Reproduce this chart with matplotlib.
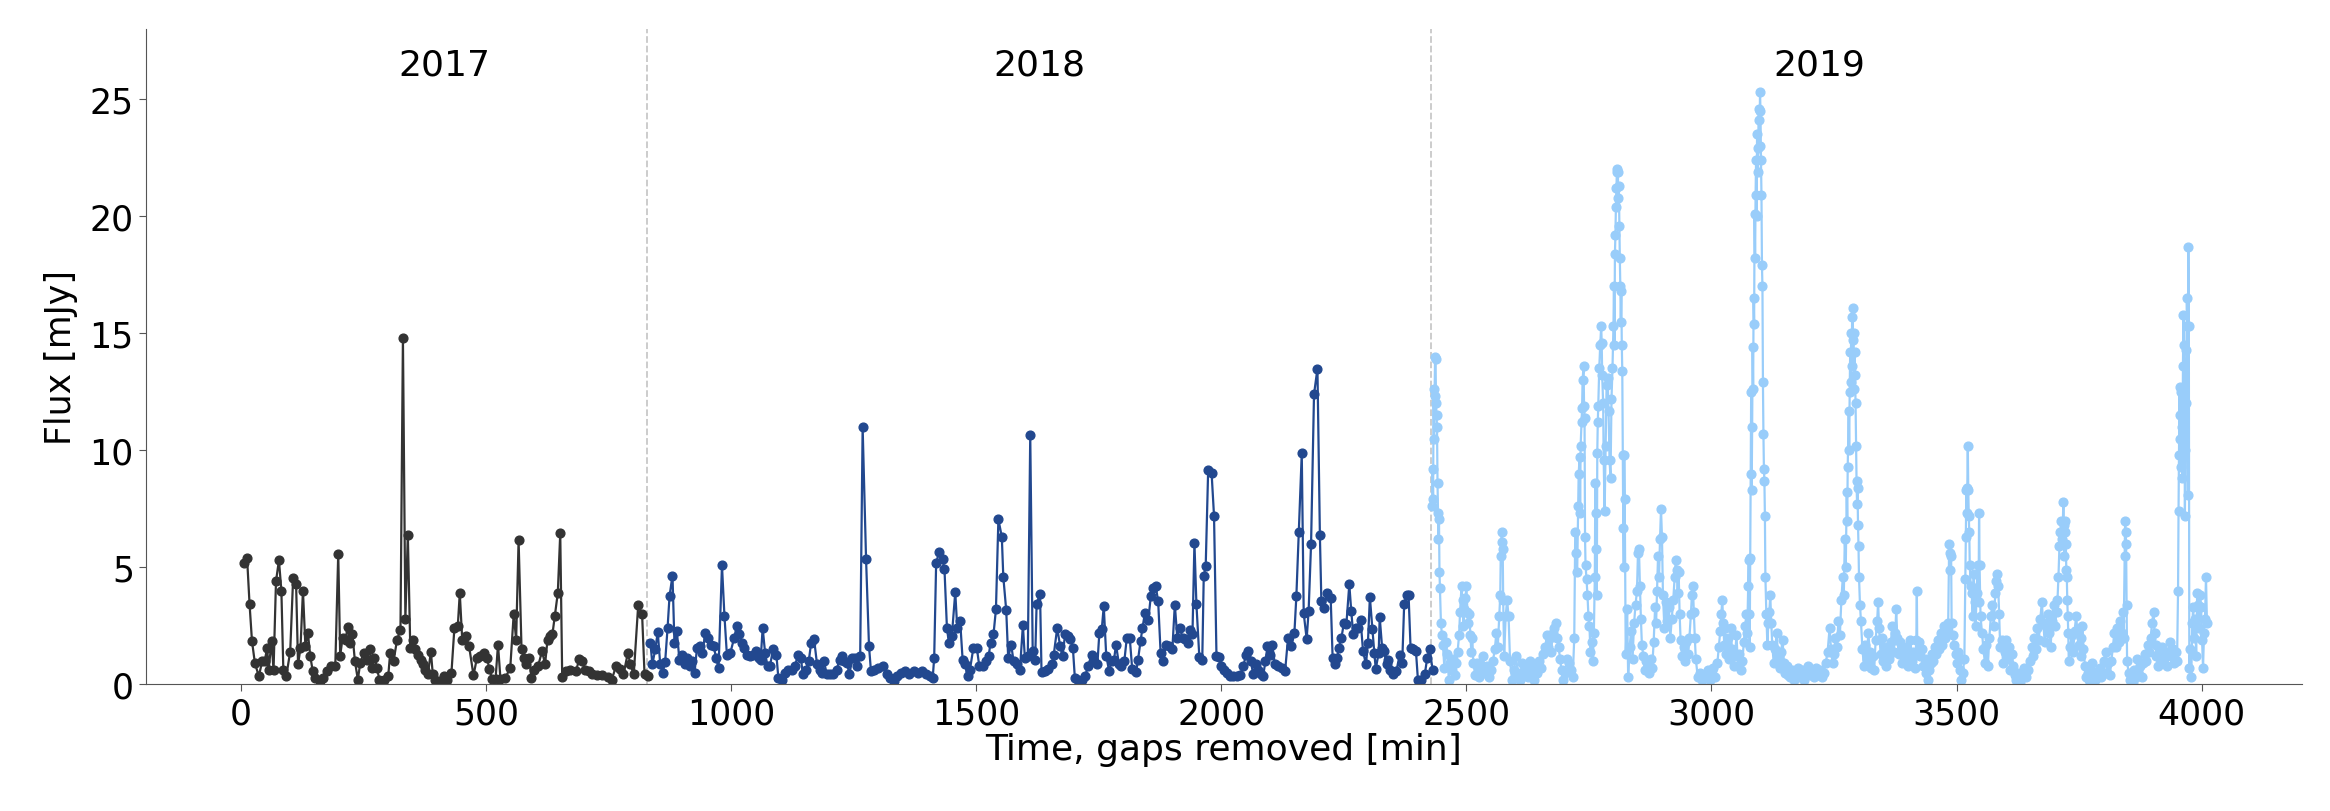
import matplotlib
matplotlib.use("Agg")
import matplotlib.pyplot as plt

# ---- data ----
t17 = [5, 12, 17, 22, 28, 36, 43, 48, 53, 56, 62, 66, 71, 77, 82, 86, 92, 100, 106, 112,
       116, 121, 126, 131, 136, 141, 146, 151, 160, 166, 175, 184, 192, 198, 202, 207, 213, 217, 223, 227,
       232, 238, 243, 250, 257, 262, 267, 272, 277, 282, 291, 300, 304, 311, 318, 325, 330, 335, 340, 345,
       351, 355, 361, 366, 370, 376, 381, 387, 391, 396, 406, 413, 420, 429, 435, 442, 446, 451, 459, 465,
       474, 481, 488, 495, 502, 506, 512, 519, 524, 529, 539, 549, 556, 561, 566, 572, 578, 582, 588, 592,
       597, 606, 614, 620, 625, 631, 635, 640, 646, 651, 655, 663, 671, 683, 690, 695, 702, 709, 716, 726,
       736, 748, 756, 765, 773, 780, 789, 794, 801, 810, 818, 823, 831]
f17 = [5.2, 5.4, 3.45, 1.85, 0.9, 0.35, 1.0, 1.0, 1.56, 0.63, 1.85, 0.6, 4.4, 5.3, 4.0, 0.6, 0.35, 1.4, 4.55, 4.3,
       0.85, 1.56, 4.0, 1.63, 2.2, 1.2, 0.56, 0.28, 0.14, 0.28, 0.56, 0.78, 0.78, 5.58, 1.23, 2.0, 1.9, 2.46, 1.77, 2.13,
       1.0, 0.2, 0.92, 1.35, 1.06, 1.52, 0.7, 1.13, 0.7, 0.2, 0.2, 0.35, 1.35, 1.0, 1.9, 2.34, 14.8, 2.8, 6.4, 1.56,
       1.9, 1.5, 1.27, 1.06, 0.85, 0.63, 0.42, 1.4, 0.42, 0.2, 0.14, 0.35, 0.2, 0.49, 2.4, 2.5, 3.9, 1.9, 2.06, 1.63,
       0.38, 1.13, 1.2, 1.35, 1.13, 0.66, 0.23, 0.23, 1.7, 0.23, 0.28, 0.7, 3.0, 1.9, 6.16, 1.52, 1.13, 0.85, 1.13, 0.28,
       0.63, 0.8, 1.42, 0.85, 1.9, 2.06, 2.13, 2.94, 3.9, 6.45, 0.3, 0.56, 0.63, 0.56, 1.09, 1.0, 0.63, 0.56, 0.42, 0.38,
       0.38, 0.3, 0.2, 0.78, 0.66, 0.42, 1.35, 0.85, 0.42, 3.37, 3.0, 0.42, 0.35]

t18 = [835, 839, 845, 850, 855, 860, 865, 870, 874, 880, 884, 889, 894, 899, 905, 909, 915, 920, 925, 930,
       937, 941, 947, 952, 958, 964, 969, 974, 981, 986, 991, 998, 1006, 1011, 1016, 1022, 1026, 1032, 1039, 1045,
       1051, 1056, 1060, 1064, 1069, 1074, 1079, 1085, 1092, 1096, 1103, 1109, 1115, 1123, 1130, 1136, 1142, 1146, 1152, 1158,
       1163, 1169, 1175, 1180, 1185, 1189, 1195, 1202, 1208, 1215, 1221, 1225, 1230, 1236, 1241, 1247, 1253, 1257, 1263, 1268,
       1275, 1281, 1285, 1292, 1300, 1310, 1317, 1324, 1331, 1338, 1346, 1355, 1363, 1372, 1380, 1389, 1397, 1406, 1411, 1414,
       1418, 1424, 1431, 1435, 1440, 1444, 1450, 1457, 1461, 1467, 1472, 1477, 1482, 1487, 1494, 1501, 1506, 1514, 1520, 1525,
       1529, 1535, 1540, 1545, 1552, 1555, 1561, 1565, 1571, 1576, 1582, 1589, 1595, 1599, 1605, 1610, 1615, 1620, 1623, 1630,
       1633, 1640, 1647, 1654, 1658, 1665, 1671, 1676, 1681, 1688, 1692, 1697, 1701, 1708, 1715, 1722, 1728, 1735, 1740, 1747,
       1751, 1756, 1760, 1765, 1771, 1776, 1781, 1785, 1791, 1796, 1802, 1807, 1813, 1818, 1826, 1830, 1835, 1839, 1844, 1851,
       1856, 1861, 1866, 1871, 1876, 1881, 1887, 1894, 1900, 1905, 1910, 1915, 1921, 1926, 1931, 1936, 1941, 1945, 1949, 1955,
       1961, 1964, 1968, 1973, 1980, 1985, 1990, 1996, 2000, 2006, 2012, 2017, 2024, 2031, 2038, 2045, 2050, 2055, 2060, 2065,
       2070, 2075, 2080, 2085, 2090, 2094, 2099, 2104, 2109, 2116, 2123, 2130, 2136, 2143, 2149, 2153, 2158, 2164, 2168, 2174,
       2178, 2183, 2189, 2196, 2201, 2204, 2210, 2216, 2223, 2227, 2231, 2236, 2240, 2245, 2250, 2255, 2261, 2265, 2269, 2274,
       2279, 2284, 2289, 2295, 2299, 2303, 2308, 2312, 2315, 2321, 2323, 2328, 2332, 2337, 2340, 2345, 2350, 2357, 2364, 2369,
       2373, 2378, 2382, 2386, 2391, 2397, 2401, 2408, 2415, 2420, 2425, 2431]
f18 = [1.77, 0.85, 1.52, 2.23, 0.85, 0.49, 0.95, 2.41, 3.77, 4.65, 1.77, 2.27, 1.06, 1.27, 0.85, 1.13, 0.78, 0.99, 0.49, 1.56,
       1.63, 1.34, 2.2, 1.99, 1.7, 1.63, 1.13, 0.7, 5.08, 2.94, 1.27, 1.34, 1.99, 2.48, 2.13, 1.77, 1.56, 1.27, 1.2, 1.27,
       1.42, 1.13, 1.06, 2.41, 1.34, 0.78, 0.78, 1.49, 1.27, 0.28, 0.2, 0.49, 0.63, 0.63, 0.78, 1.27, 1.13, 0.42, 0.63, 0.99,
       1.77, 1.92, 0.85, 0.63, 0.49, 0.99, 0.42, 0.42, 0.42, 0.63, 1.06, 1.2, 0.99, 0.92, 0.42, 1.13, 1.13, 0.78, 1.2, 10.99,
       5.34, 1.63, 0.56, 0.63, 0.7, 0.78, 0.42, 0.28, 0.13, 0.35, 0.49, 0.56, 0.42, 0.56, 0.49, 0.56, 0.42, 0.35, 0.28, 1.13,
       5.19, 5.65, 5.34, 4.91, 2.41, 1.77, 2.06, 3.94, 2.41, 2.7, 1.06, 0.85, 0.35, 0.63, 1.56, 1.56, 0.78, 0.78, 0.99, 1.2,
       1.77, 2.13, 3.2, 7.05, 6.3, 4.6, 3.16, 1.13, 1.7, 0.99, 0.85, 0.63, 2.53, 1.13, 1.2, 10.64, 1.42, 1.02, 3.45, 3.87,
       0.52, 0.56, 0.66, 0.85, 1.27, 2.41, 1.63, 1.2, 2.13, 2.06, 1.92, 1.56, 0.28, 0.2, 0.2, 0.35, 0.78, 1.27, 0.99, 0.85,
       2.2, 2.37, 3.34, 1.23, 0.56, 0.99, 1.06, 1.7, 0.85, 0.78, 0.99, 1.99, 1.99, 0.66, 0.52, 1.06, 1.84, 2.41, 3.05, 2.77,
       3.77, 4.12, 4.2, 3.55, 1.35, 0.99, 1.7, 1.63, 1.52, 3.41, 1.99, 2.41, 1.99, 1.92, 1.77, 2.34, 2.13, 6.05, 3.45, 1.17,
       1.06, 4.62, 5.05, 9.14, 9.04, 7.19, 1.2, 1.17, 0.78, 0.63, 0.49, 0.35, 0.35, 0.35, 0.38, 0.78, 1.27, 1.42, 0.99, 0.42,
       0.85, 0.63, 0.42, 0.35, 0.99, 1.63, 1.27, 1.7, 0.85, 0.78, 0.7, 0.56, 1.99, 1.63, 2.2, 3.77, 6.5, 9.87, 3.03, 1.94,
       3.13, 6.0, 12.39, 13.49, 6.36, 3.55, 3.27, 3.91, 3.7, 1.13, 0.85, 1.13, 1.56, 1.99, 2.63, 2.56, 4.27, 3.13, 2.13, 2.41,
       2.41, 2.77, 1.42, 0.85, 1.77, 3.72, 2.37, 1.35, 0.66, 1.35, 2.88, 1.56, 1.42, 0.85, 1.06, 0.63, 0.42, 0.56, 1.27, 0.92,
       3.45, 3.8, 3.8, 1.56, 1.49, 1.42, 0.2, 0.2, 0.42, 1.13, 1.49, 0.63]

t19 = [2430, 2431, 2432, 2433, 2434, 2435, 2436, 2437, 2438, 2439, 2440, 2441, 2442, 2443, 2444, 2445, 2446,
       2448, 2450, 2452, 2455, 2458, 2461, 2464, 2467, 2470, 2473, 2476, 2479,
       2482, 2485, 2487, 2490, 2492, 2494, 2496, 2498, 2500, 2502, 2504, 2506, 2508, 2510, 2512, 2514,
       2518, 2522, 2526, 2530, 2534, 2538, 2542, 2546, 2550, 2554, 2558,
       2561, 2564, 2567, 2569, 2570, 2572, 2573, 2574, 2575, 2577, 2580, 2583, 2586, 2589,
       2593, 2597, 2601, 2605, 2609, 2613, 2617, 2621, 2625, 2629, 2633, 2637, 2641, 2645, 2649, 2653, 2657, 2661,
       2664, 2667, 2670, 2673, 2676, 2679, 2682, 2685, 2688, 2691, 2694, 2697, 2701, 2705, 2709, 2713,
       2717, 2720, 2722, 2724, 2726, 2728, 2729, 2731, 2732, 2733, 2735, 2736, 2737, 2739, 2740, 2741, 2742, 2743,
       2745, 2747, 2749, 2751, 2753, 2756, 2758, 2760,
       2762, 2763, 2764, 2765, 2766, 2767, 2768, 2769, 2771, 2773, 2775, 2776, 2777, 2779, 2780, 2782, 2784, 2786,
       2788, 2790, 2792, 2794, 2796, 2798,
       2800, 2801, 2802, 2803, 2804, 2805, 2806, 2807, 2808, 2809, 2810, 2811, 2812, 2813, 2814, 2815, 2816, 2817,
       2818, 2819, 2820, 2821, 2822, 2823,
       2825, 2828, 2830, 2833, 2836, 2839, 2842, 2845, 2848, 2850, 2852, 2854, 2856, 2858, 2861, 2864, 2867, 2870,
       2873, 2876, 2879, 2882, 2885, 2887, 2889, 2891, 2893, 2895, 2897, 2899, 2901,
       2904, 2907, 2910, 2913, 2916, 2919, 2922, 2925, 2927, 2929, 2931, 2933, 2935, 2937, 2940, 2943, 2946, 2949,
       2952, 2955, 2958, 2960, 2962, 2964, 2966, 2968,
       2972, 2976, 2980, 2984, 2988, 2992, 2996, 3000, 3004, 3008, 3012, 3015, 3018, 3020, 3022, 3024, 3026, 3028,
       3030, 3033, 3036, 3039, 3042, 3045, 3048, 3051, 3054, 3057, 3060, 3063, 3066, 3069, 3071, 3073, 3075, 3076, 3077,
       3078, 3079, 3080, 3081, 3082, 3083, 3084, 3085, 3086, 3087, 3088, 3089, 3090, 3091, 3092, 3093, 3094, 3095,
       3096, 3097, 3098, 3099, 3100, 3101, 3102, 3103, 3104, 3105, 3106, 3107, 3108, 3109, 3110,
       3112, 3114, 3116, 3118, 3120, 3122, 3124, 3127, 3130, 3133, 3136, 3139, 3142, 3145, 3148, 3151, 3154, 3157,
       3161, 3165, 3169, 3173, 3177, 3181, 3185, 3189, 3193, 3197, 3201, 3205, 3209, 3213, 3217, 3221, 3225, 3229,
       3233, 3237, 3241, 3244, 3247,
       3250, 3253, 3256, 3259, 3262, 3265, 3268, 3270, 3272, 3274, 3276, 3277, 3278, 3280, 3281, 3282, 3283, 3284,
       3285, 3286, 3287, 3288, 3289, 3290, 3291, 3292, 3293, 3294, 3295, 3296, 3297, 3298, 3299, 3300, 3301, 3303, 3305,
       3308, 3311, 3314, 3317, 3320, 3323, 3326, 3329, 3332, 3335, 3338, 3340, 3342, 3345, 3348, 3351, 3354, 3357,
       3360, 3363, 3366, 3369, 3372, 3375, 3377, 3379, 3382, 3385, 3388, 3391, 3394, 3397, 3400, 3403, 3406, 3409,
       3412, 3415,
       3418, 3419, 3420, 3423, 3426, 3429, 3432, 3435, 3438, 3441, 3444, 3447, 3450, 3453, 3456, 3459, 3462, 3465,
       3468, 3471, 3474, 3477, 3480, 3483, 3485, 3486, 3487, 3489, 3490, 3492, 3495, 3498, 3501, 3504, 3507, 3510, 3513,
       3516, 3518, 3519, 3520, 3521, 3522, 3523, 3524, 3525, 3526, 3527, 3529, 3531, 3533, 3535, 3537, 3539, 3541,
       3543, 3545, 3546, 3547, 3549, 3552, 3555, 3558, 3561, 3564, 3567, 3570, 3573, 3576, 3579, 3581, 3583, 3585,
       3587, 3589, 3592, 3595, 3598,
       3601, 3604, 3607, 3610, 3613, 3616, 3619, 3622, 3626, 3630, 3634, 3638, 3642, 3646, 3650, 3653, 3656, 3659,
       3662, 3665, 3668, 3671, 3674, 3677, 3680, 3683, 3686, 3689, 3692, 3695, 3698, 3701, 3704, 3706, 3708, 3710,
       3712, 3714, 3716, 3718, 3719, 3720,
       3721, 3722, 3723, 3724, 3725, 3726, 3727, 3728, 3729, 3732, 3735, 3738, 3741, 3744, 3747, 3750, 3753, 3755,
       3757, 3759, 3762, 3765, 3768, 3771, 3774, 3777, 3780, 3783, 3786, 3789, 3792, 3795, 3798,
       3801, 3804, 3807, 3810, 3813, 3816, 3819, 3822, 3825, 3828, 3831, 3834, 3837, 3839, 3841, 3843, 3844, 3845,
       3846, 3847, 3848, 3851, 3854, 3857, 3860, 3863, 3866, 3869, 3872, 3875, 3878, 3881, 3884, 3887, 3890, 3893,
       3896, 3899, 3902, 3904, 3906, 3908, 3911, 3914, 3917, 3920, 3923, 3926, 3929, 3932, 3935, 3938, 3941, 3944,
       3947, 3950,
       3952, 3953, 3954, 3955, 3956, 3957, 3958, 3959, 3960, 3961, 3962, 3963, 3964, 3965, 3966, 3967, 3968, 3969,
       3970, 3971, 3972, 3973, 3974, 3975, 3977, 3979, 3981, 3983, 3985, 3987, 3989, 3991, 3993, 3995, 3997, 3999,
       4001, 4003, 4005, 4007, 4009, 4011]
f19 = [7.6, 9.2, 7.9, 12.6, 10.5, 12.3, 14.0, 13.9, 12.0, 11.5, 11.0, 8.6, 7.3, 6.2, 7.05, 4.8, 4.1,
       2.6, 2.1, 1.7, 0.7, 1.8, 1.3, 0.2, 0.9, 0.6, 1.1, 0.4, 0.9,
       1.4, 2.1, 3.1, 4.2, 3.6, 2.5, 3.2, 3.7, 4.2, 3.1, 2.6, 3.0, 2.1, 1.4, 2.0, 0.9,
       0.4, 0.9, 0.3, 0.7, 1.2, 0.5, 0.8, 0.3, 0.6, 1.0, 1.5,
       2.2, 1.6, 2.9, 3.8, 5.5, 6.5, 6.1, 5.8, 3.6, 1.2, 2.9, 3.6, 2.9, 1.0,
       0.2, 0.6, 1.2, 0.5, 0.2, 0.9, 0.4, 0.7, 0.3, 1.0, 0.6, 0.2, 0.8, 0.5, 1.0, 0.7, 1.3, 1.6,
       2.1, 1.6, 2.0, 1.4, 2.2, 2.4, 2.6, 2.0, 1.6, 1.1, 0.6, 0.2, 0.5, 1.1, 0.9, 0.6,
       0.3, 2.0, 6.5, 5.6, 4.8, 7.6, 9.0, 9.7, 7.3, 10.2, 11.2, 11.8, 13.0, 13.6, 11.9, 11.4, 6.3, 5.1,
       4.5, 3.8, 2.9, 2.5, 1.4, 1.8, 1.0, 2.2,
       4.6, 8.6, 7.3, 5.8, 3.8, 9.9, 11.2, 11.9, 13.5, 14.5, 15.3, 14.6, 13.2, 12.0, 9.6, 7.4, 10.2, 12.8,
       13.1, 11.7, 9.6, 8.8, 12.2, 13.5,
       15.3, 17.0, 14.5, 18.4, 19.2, 20.4, 21.2, 21.9, 22.0, 21.9, 20.8, 21.3, 19.6, 18.2, 17.0, 15.5, 16.8, 14.5,
       13.4, 9.8, 6.7, 5.0, 9.8, 7.9,
       1.3, 3.2, 0.3, 1.6, 2.3, 1.1, 2.6, 3.4, 4.0, 5.6, 5.8, 4.2, 2.8, 1.7, 1.2, 0.6, 1.0, 0.8,
       0.5, 1.1, 0.7, 1.8, 3.3, 2.6, 4.0, 5.5, 4.6, 6.2, 7.5, 6.3, 3.8,
       2.4, 3.5, 2.7, 3.3, 2.0, 2.8, 3.6, 4.6, 5.3, 4.9, 3.9, 4.8, 3.0, 1.9, 1.2, 1.6, 1.0, 1.8,
       1.3, 2.0, 3.0, 3.8, 4.2, 3.1, 2.0, 1.1,
       0.3, 0.5, 0.2, 0.4, 0.3, 0.6, 0.2, 0.4, 0.7, 0.3, 0.9, 1.6, 2.3, 3.0, 3.6, 2.6, 1.7, 2.4,
       1.3, 2.0, 1.1, 2.4, 1.5, 0.8, 1.2, 2.1, 0.8, 1.3, 0.6, 1.0, 1.8, 2.5, 3.0, 2.2, 4.2, 5.3, 3.0,
       1.6, 5.4, 9.0, 12.5, 8.3, 11.0, 14.4, 12.6, 16.5, 15.4, 20.1, 18.2, 20.9, 22.4, 20.0, 23.5, 22.9, 21.9,
       24.1, 24.6, 23.0, 25.3, 24.5, 22.4, 20.9, 17.9, 17.0, 12.9, 10.7, 9.2, 8.7, 7.2, 4.6,
       3.0, 1.7, 2.6, 3.1, 3.8, 2.6, 1.7, 0.9, 1.5, 2.2, 1.2, 0.7, 1.4, 1.9, 0.9, 0.5, 0.8, 0.4,
       0.3, 0.6, 0.2, 0.5, 0.7, 0.3, 0.6, 0.2, 0.5, 0.8, 0.4, 0.6, 0.3, 0.7, 0.4, 0.6, 0.3, 0.5,
       0.9, 1.4, 2.4, 1.5, 0.9,
       1.3, 2.0, 1.6, 2.7, 2.1, 3.6, 4.6, 3.8, 6.2, 5.0, 8.2, 7.0, 9.3, 11.7, 10.0, 12.5, 14.2, 12.9,
       15.0, 13.6, 15.7, 16.1, 14.7, 15.0, 12.6, 14.2, 13.2, 12.0, 10.2, 8.7, 7.7, 8.4, 6.8, 5.9, 4.6, 3.4, 2.7,
       1.5, 0.8, 1.7, 1.1, 2.2, 1.4, 0.7, 1.2, 0.6, 1.9, 2.7, 3.5, 2.4, 1.3, 2.0, 1.0, 1.6, 0.8,
       1.5, 1.1, 1.8, 2.5, 1.4, 2.2, 3.2, 2.0, 1.3, 1.8, 0.9, 1.5, 1.0, 1.6, 0.8, 1.3, 1.9, 1.0,
       1.4, 0.7,
       1.9, 4.0, 1.4, 1.8, 1.2, 1.5, 0.8, 1.1, 0.5, 0.2, 0.6, 0.9, 1.3, 1.0, 1.6, 1.3, 1.9, 1.5,
       2.2, 1.7, 2.5, 2.0, 2.3, 2.6, 6.0, 5.6, 4.9, 5.5, 2.6, 2.1, 1.7, 1.3, 0.9, 1.4, 0.6, 0.2, 0.5,
       1.1, 4.5, 6.3, 8.3, 7.3, 8.4, 10.2, 8.3, 7.2, 6.5, 5.1, 4.2, 3.9, 2.9, 4.7, 3.5, 2.5, 3.9,
       5.1, 3.5, 7.3, 5.1, 2.9, 2.2, 1.5, 0.9, 1.7, 0.8, 2.0, 2.9, 3.4, 2.5, 3.9, 4.4, 4.7, 4.2,
       3.0, 1.6, 1.9, 0.9, 1.4,
       1.9, 1.1, 1.6, 0.6, 1.3, 0.8, 0.4, 0.2, 0.5, 0.1, 0.4, 0.7, 0.3, 0.6, 1.0, 1.6, 1.2, 2.0,
       1.5, 2.4, 1.9, 2.8, 3.5, 2.6, 1.8, 2.5, 3.0, 2.2, 1.6, 2.7, 3.4, 2.5, 3.1, 3.6, 4.6, 5.9,
       6.5, 7.0, 6.2, 7.8, 6.8, 5.5,
       7.0, 6.5, 6.0, 4.9, 4.6, 3.6, 2.9, 2.2, 1.0, 1.6, 2.1, 1.4, 2.3, 2.9, 2.2, 1.7, 1.2, 2.0,
       2.5, 1.5, 0.8, 0.3, 0.5, 0.2, 0.6, 0.9, 0.4, 0.2, 0.5, 0.3, 0.7, 0.3, 0.5,
       1.0, 1.4, 0.5, 0.9, 0.4, 1.0, 1.6, 2.2, 1.6, 2.4, 1.8, 2.7, 2.2, 3.1, 2.0, 5.5, 7.0, 6.5,
       6.0, 3.4, 1.0, 0.5, 0.2, 0.4, 0.1, 0.6, 0.3, 1.1, 0.4, 0.8, 0.3, 0.9, 1.3, 1.0, 1.7, 1.4,
       2.0, 2.6, 3.1, 2.2, 1.7, 1.2, 0.8, 1.4, 1.0, 1.6, 1.1, 1.3, 0.8, 1.4, 1.8, 1.2, 1.5, 0.9,
       1.4, 1.0,
       4.0, 7.4, 9.8, 12.7, 10.5, 11.5, 12.5, 9.3, 11.0, 8.8, 13.6, 15.8, 14.5, 12.3, 7.2, 10.0, 12.0, 14.3,
       16.5, 15.3, 8.1, 18.7, 15.3, 0.7, 1.5, 0.3, 2.6, 3.3, 2.0, 2.8, 1.2, 3.9, 3.4, 2.4, 3.8, 3.3,
       1.9, 0.7, 2.2, 2.8, 4.6, 2.6]

years = ["2017", "2018", "2019"]
year_breaks = [829, 2428]
colors = ["#333333", "#22488f", "#99cdfa"]

# ---- plot ----
fig = plt.figure(figsize=(23.3, 8.12), dpi=100)
ax = fig.add_axes([0.0625, 0.156, 0.9255, 0.807])

for t, f, c in zip([t17, t18, t19], [f17, f18, f19], colors):
    ax.plot(t, f, color=c, marker="o", markersize=6.3, linewidth=1.6)

for b in year_breaks:
    ax.axvline(b, color="#c8c8c8", linestyle="--", linewidth=1.3, zorder=0)

edges = [t17[0] - 5] + year_breaks + [t19[-1]]
for i, y in enumerate(years):
    ax.text((edges[i] + edges[i + 1]) / 2, 26.5, y, fontsize=26, ha="center", va="center")

ax.set_xlim(-195, 4205)
ax.set_ylim(0, 28)
ax.set_xticks([0, 500, 1000, 1500, 2000, 2500, 3000, 3500, 4000])
ax.set_yticks([0, 5, 10, 15, 20, 25])
ax.tick_params(labelsize=25, color="#555555", length=5)
ax.tick_params(axis="x", pad=4)
ax.set_xlabel("Time, gaps removed [min]", fontsize=26, labelpad=1)
ax.set_ylabel("Flux [mJy]", fontsize=25, labelpad=8)
ax.spines["top"].set_visible(False)
ax.spines["right"].set_visible(False)
ax.spines["left"].set_color("#555555")
ax.spines["bottom"].set_color("#555555")

fig.savefig("out.png", dpi=100)
